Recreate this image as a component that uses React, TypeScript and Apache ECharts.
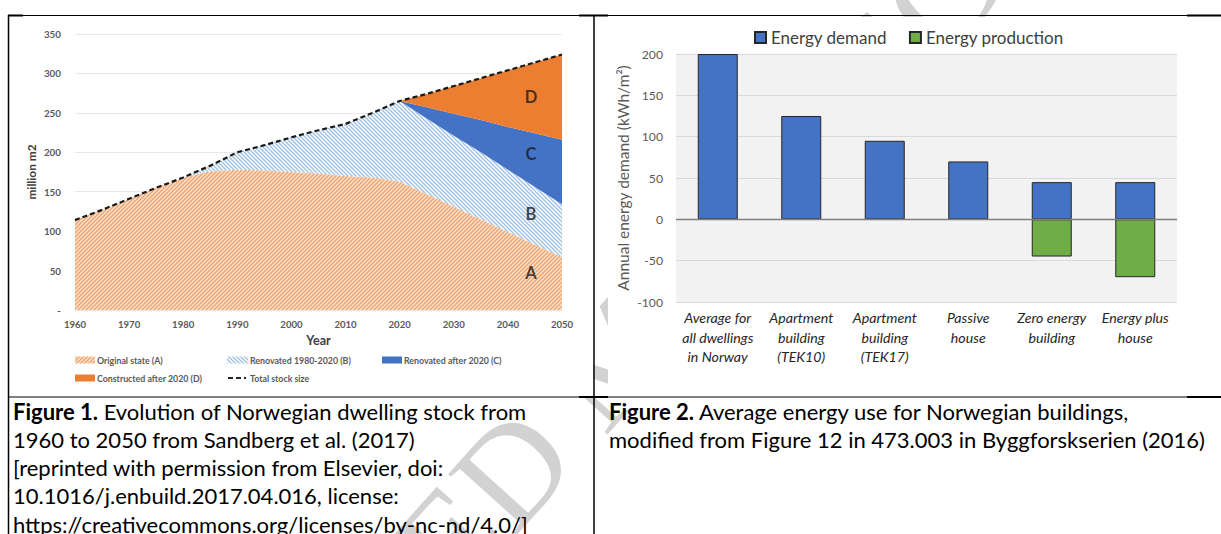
import React, { useEffect, useRef } from 'react';
import * as echarts from 'echarts';

// ---- Figure 1: Norwegian dwelling stock (million m2) ----
const years = ['1960', '1965', '1970', '1975', '1980', '1985', '1990', '1995', '2000', '2005', '2010', '2015', '2020', '2025', '2030', '2035', '2040', '2045', '2050'];
const originalState = [114, 127, 141, 155, 168, 176, 178, 177, 175, 173, 170, 168, 163, 147, 131, 115, 99, 83, 67];
const renovated1980to2020 = [0, 0, 0, 0, 0, 7, 22, 32, 44, 55, 66, 82, 102, 96, 90, 85, 79, 73, 67];
const renovatedAfter2020 = [0, 0, 0, 0, 0, 0, 0, 0, 0, 0, 0, 0, 0, 14, 28, 41, 54, 68, 82];
const constructedAfter2020 = [0, 0, 0, 0, 0, 0, 0, 0, 0, 0, 0, 0, 0, 17, 35, 53, 72, 90, 108];
const totalStock = [114, 127, 141, 155, 168, 183, 200, 209, 219, 228, 236, 250, 265, 274, 284, 294, 304, 314, 324];
const regionLetters = ['A', 'B', 'C', 'D'];
const regionLetterValues = [47, 122, 198, 270];
const regionLetterYear = '2045';

// ---- Figure 2: annual energy demand per building type (kWh/m2) ----
const buildingTypes = [
  'Average for\nall dwellings\nin Norway',
  'Apartment\nbuilding\n(TEK10)',
  'Apartment\nbuilding\n(TEK17)',
  'Passive\nhouse',
  'Zero energy\nbuilding',
  'Energy plus\nhouse',
];
const energyDemand = [200, 125, 95, 70, 45, 45];
const energyProduction: (number | string)[] = ['-', '-', '-', '-', -45, -70];

const captionLeft = [
  ['Figure 1.', ' Evolution of Norwegian dwelling stock from'],
  ['', '1960 to 2050 from Sandberg et al. (2017)'],
  ['', '[reprinted with permission from Elsevier, doi:'],
  ['', '10.1016/j.enbuild.2017.04.016, license:'],
  ['', 'https://creativecommons.org/licenses/by-nc-nd/4.0/]'],
];
const captionRight = [
  ['Figure 2.', ' Average energy use for Norwegian buildings,'],
  ['', 'modified from Figure 12 in 473.003 in Byggforskserien (2016)'],
];

const FONT = 'Lato, "Open Sans", "DejaVu Sans", sans-serif';

// Diagonal hatch tile used for the hatched stock areas.
function hatch(stripe: string, bg: string, forward: boolean) {
  const s = 4;
  const c = document.createElement('canvas');
  c.width = s;
  c.height = s;
  const ctx = c.getContext('2d')!;
  ctx.fillStyle = bg;
  ctx.fillRect(0, 0, s, s);
  ctx.strokeStyle = stripe;
  ctx.lineWidth = 1.3;
  ctx.beginPath();
  if (forward) {
    ctx.moveTo(-1, s + 1); ctx.lineTo(s + 1, -1);
    ctx.moveTo(-1, 1); ctx.lineTo(1, -1);
    ctx.moveTo(s - 1, s + 1); ctx.lineTo(s + 1, s - 1);
  } else {
    ctx.moveTo(-1, -1); ctx.lineTo(s + 1, s + 1);
    ctx.moveTo(s - 1, -1); ctx.lineTo(s + 1, 1);
    ctx.moveTo(-1, s - 1); ctx.lineTo(1, s + 1);
  }
  ctx.stroke();
  return { image: c, repeat: 'repeat', imageWidth: s, imageHeight: s } as any;
}

export default function App() {
  const ref = useRef<HTMLDivElement>(null);

  useEffect(() => {
    const prevMargin = document.body.style.margin;
    document.body.style.margin = '0';
    const chart = echarts.init(ref.current!, null, { renderer: 'svg', width: 1221, height: 534 });

    const hatchA = hatch('#eea26a', '#fbe3d0', true);
    const hatchB = hatch('#9cc0e4', '#ffffff', false);

    const stackArea = (name: string, vals: number[], color: any) => ({
      name,
      type: 'line',
      xAxisIndex: 0,
      yAxisIndex: 0,
      stack: 'stock',
      data: vals,
      symbol: 'none',
      silent: true,
      lineStyle: { width: 0, opacity: 0 },
      areaStyle: { color, opacity: 1 },
      z: 2,
    });

    const graphicEls: any[] = [];

    // faint manuscript watermark, hidden behind the two figure panels
    graphicEls.push({
      type: 'text',
      x: 114,
      y: 1016,
      rotation: (48 * Math.PI) / 180,
      z: -10,
      silent: true,
      style: {
        text: 'ACCEPTED MANUSCRIPT',
        fontFamily: '"Liberation Serif", "DejaVu Serif", serif',
        fontSize: 140,
        fill: '#d2d2d2',
        textAlign: 'left',
        textVerticalAlign: 'bottom',
      },
    });
    graphicEls.push({ type: 'rect', z: -5, silent: true, shape: { x: 10, y: 17, width: 583, height: 379 }, style: { fill: '#ffffff' } });
    graphicEls.push({ type: 'rect', z: -5, silent: true, shape: { x: 608, y: 17, width: 613, height: 379 }, style: { fill: '#ffffff' } });

    // table rules
    const rule = (x1: number, y1: number, x2: number, y2: number, w: number) => ({
      type: 'line', z: 100, silent: true,
      shape: { x1, y1, x2, y2 },
      style: { stroke: '#000000', lineWidth: w },
    });
    graphicEls.push(rule(8, 15.5, 1221, 15.5, 1));
    graphicEls.push(rule(8, 15.5, 23, 15.5, 2));
    graphicEls.push(rule(579, 15.5, 608, 15.5, 2));
    graphicEls.push(rule(1187, 15.5, 1221, 15.5, 2));
    graphicEls.push(rule(8.5, 15, 8.5, 534, 1.5));
    graphicEls.push(rule(594, 15, 594, 534, 1.5));
    graphicEls.push(rule(8, 397, 1221, 397, 1));
    graphicEls.push(rule(579, 397, 608, 397, 2));
    graphicEls.push(rule(1187, 397, 1221, 397, 2));

    // captions
    const captionLine = (x: number, y: number, parts: string[]) => ({
      type: 'text', z: 100, silent: true, x, y,
      style: {
        text: (parts[0] ? '{b|' + parts[0] + '}' : '') + parts[1],
        rich: { b: { fontWeight: 'bold', fontSize: 22, fontFamily: FONT, fill: '#000000' } },
        fontSize: 22,
        fontFamily: FONT,
        fill: '#000000',
        textVerticalAlign: 'middle',
      },
    });
    captionLeft.forEach((p, i) => graphicEls.push(captionLine(13, 411 + i * 28.3, p)));
    captionRight.forEach((p, i) => graphicEls.push(captionLine(609, 411 + i * 28.3, p)));

    // legend of figure 1
    const legText = (x: number, y: number, text: string) => ({
      type: 'text', z: 50, silent: true, x, y,
      style: { text, fontSize: 8.8, fontWeight: 'bold', fontFamily: FONT, fill: '#595959', textVerticalAlign: 'middle' },
    });
    const legRect = (x: number, y: number, w: number, fill: any) => ({
      type: 'rect', z: 50, silent: true, shape: { x, y: y - 3.5, width: w, height: 7 }, style: { fill },
    });
    graphicEls.push(legRect(75, 360, 20, hatchA), legText(97, 360, 'Original state (A)'));
    graphicEls.push(legRect(227, 360, 21, hatchB), legText(250, 360, 'Renovated 1980-2020 (B)'));
    graphicEls.push(legRect(382, 360, 20, '#4472c4'), legText(404, 360, 'Renovated after 2020 (C)'));
    graphicEls.push(legRect(75, 378, 20, '#ed7d31'), legText(97, 378, 'Constructed after 2020 (D)'));
    graphicEls.push({
      type: 'line', z: 50, silent: true,
      shape: { x1: 228, y1: 378, x2: 246, y2: 378 },
      style: { stroke: '#262626', lineWidth: 2, lineDash: [5, 3] },
    });
    graphicEls.push(legText(250, 378, 'Total stock size'));

    const option: any = {
      animation: false,
      backgroundColor: '#ffffff',
      textStyle: { fontFamily: FONT },
      grid: [
        { left: 75, top: 34, width: 487, height: 276, containLabel: false },
        { left: 676, top: 54, width: 501, height: 248, show: true, backgroundColor: '#f2f2f2', borderWidth: 0, containLabel: false },
      ],
      xAxis: [
        {
          gridIndex: 0,
          type: 'category',
          data: years,
          boundaryGap: false,
          axisLine: { show: false },
          axisTick: { show: false },
          splitLine: { show: false },
          axisLabel: { interval: 1, color: '#595959', fontWeight: 'bold', fontSize: 9.6, margin: 9, fontFamily: FONT },
          name: 'Year',
          nameLocation: 'middle',
          nameGap: 23,
          nameTextStyle: { color: '#404040', fontWeight: 'bold', fontSize: 12.5, fontFamily: FONT },
        },
        {
          gridIndex: 1,
          type: 'category',
          data: buildingTypes,
          axisLine: { show: false },
          axisTick: { show: false },
          axisLabel: {
            interval: 0,
            color: '#262626',
            fontStyle: 'italic',
            fontSize: 14.2,
            lineHeight: 19.5,
            margin: 6,
            fontFamily: FONT,
          },
        },
      ],
      yAxis: [
        {
          gridIndex: 0,
          type: 'value',
          min: 0,
          max: 350,
          interval: 50,
          axisLine: { show: false },
          axisTick: { show: false },
          splitLine: { lineStyle: { color: '#e8e8e8', width: 1 } },
          axisLabel: {
            color: '#595959', fontWeight: 'bold', fontSize: 9.8, margin: 14, fontFamily: FONT,
            formatter: (v: number) => (v === 0 ? '-' : String(v)),
          },
          name: 'million m2',
          nameLocation: 'middle',
          nameRotate: 90,
          nameGap: 38,
          nameTextStyle: { color: '#404040', fontWeight: 'bold', fontSize: 11.9, fontFamily: FONT },
        },
        {
          gridIndex: 1,
          type: 'value',
          min: -100,
          max: 200,
          interval: 50,
          axisLine: { show: false },
          axisTick: { show: false },
          splitLine: { lineStyle: { color: '#d9d9d9', width: 1 } },
          axisLabel: { color: '#595959', fontSize: 12.2, margin: 13, fontFamily: FONT },
          name: 'Annual energy demand (kWh/m²)',
          nameLocation: 'middle',
          nameRotate: 90,
          nameGap: 45,
          nameTextStyle: { color: '#595959', fontSize: 15.5, fontFamily: FONT },
        },
      ],
      legend: {
        data: ['Energy demand', 'Energy production'],
        left: 749,
        top: 24,
        icon: 'rect',
        itemWidth: 11,
        itemHeight: 11,
        itemGap: 22,
        textStyle: { color: '#404040', fontSize: 17, fontFamily: FONT },
        selectedMode: false,
      },
      series: [
        stackArea('Original state (A)', originalState, hatchA),
        stackArea('Renovated 1980-2020 (B)', renovated1980to2020, hatchB),
        stackArea('Renovated after 2020 (C)', renovatedAfter2020, '#4472c4'),
        stackArea('Constructed after 2020 (D)', constructedAfter2020, '#ed7d31'),
        {
          name: 'Total stock size',
          type: 'line',
          xAxisIndex: 0,
          yAxisIndex: 0,
          data: totalStock,
          symbol: 'none',
          silent: true,
          lineStyle: { color: '#1a1a1a', width: 2.2, type: [5, 3] },
          z: 5,
        },
        {
          name: 'regions',
          type: 'scatter',
          xAxisIndex: 0,
          yAxisIndex: 0,
          symbolSize: 0,
          silent: true,
          data: regionLetters.map((l, i) => ({ name: l, value: [regionLetterYear, regionLetterValues[i]] })),
          label: {
            show: true,
            position: 'inside',
            offset: [-4, 0],
            formatter: '{b}',
            color: '#1a1a1a',
            fontWeight: 'bold',
            fontSize: 16.5,
            fontFamily: FONT,
          },
          z: 6,
        },
        {
          name: 'Energy demand',
          type: 'bar',
          xAxisIndex: 1,
          yAxisIndex: 1,
          data: energyDemand,
          barWidth: 40,
          barGap: '-100%',
          itemStyle: { color: '#4472c4', borderColor: '#262626', borderWidth: 1 },
          markLine: {
            silent: true,
            symbol: ['none', 'none'],
            label: { show: false },
            lineStyle: { color: '#7f7f7f', width: 1.3, type: 'solid' },
            data: [{ yAxis: 0 }],
          },
        },
        {
          name: 'Energy production',
          type: 'bar',
          xAxisIndex: 1,
          yAxisIndex: 1,
          data: energyProduction,
          barWidth: 40,
          barGap: '-100%',
          itemStyle: { color: '#70ad47', borderColor: '#262626', borderWidth: 1 },
        },
      ],
      graphic: { elements: graphicEls },
    };

    chart.setOption(option);
    return () => {
      chart.dispose();
      document.body.style.margin = prevMargin;
    };
  }, []);

  return <div ref={ref} style={{ width: 1221, height: 534 }} />;
}
